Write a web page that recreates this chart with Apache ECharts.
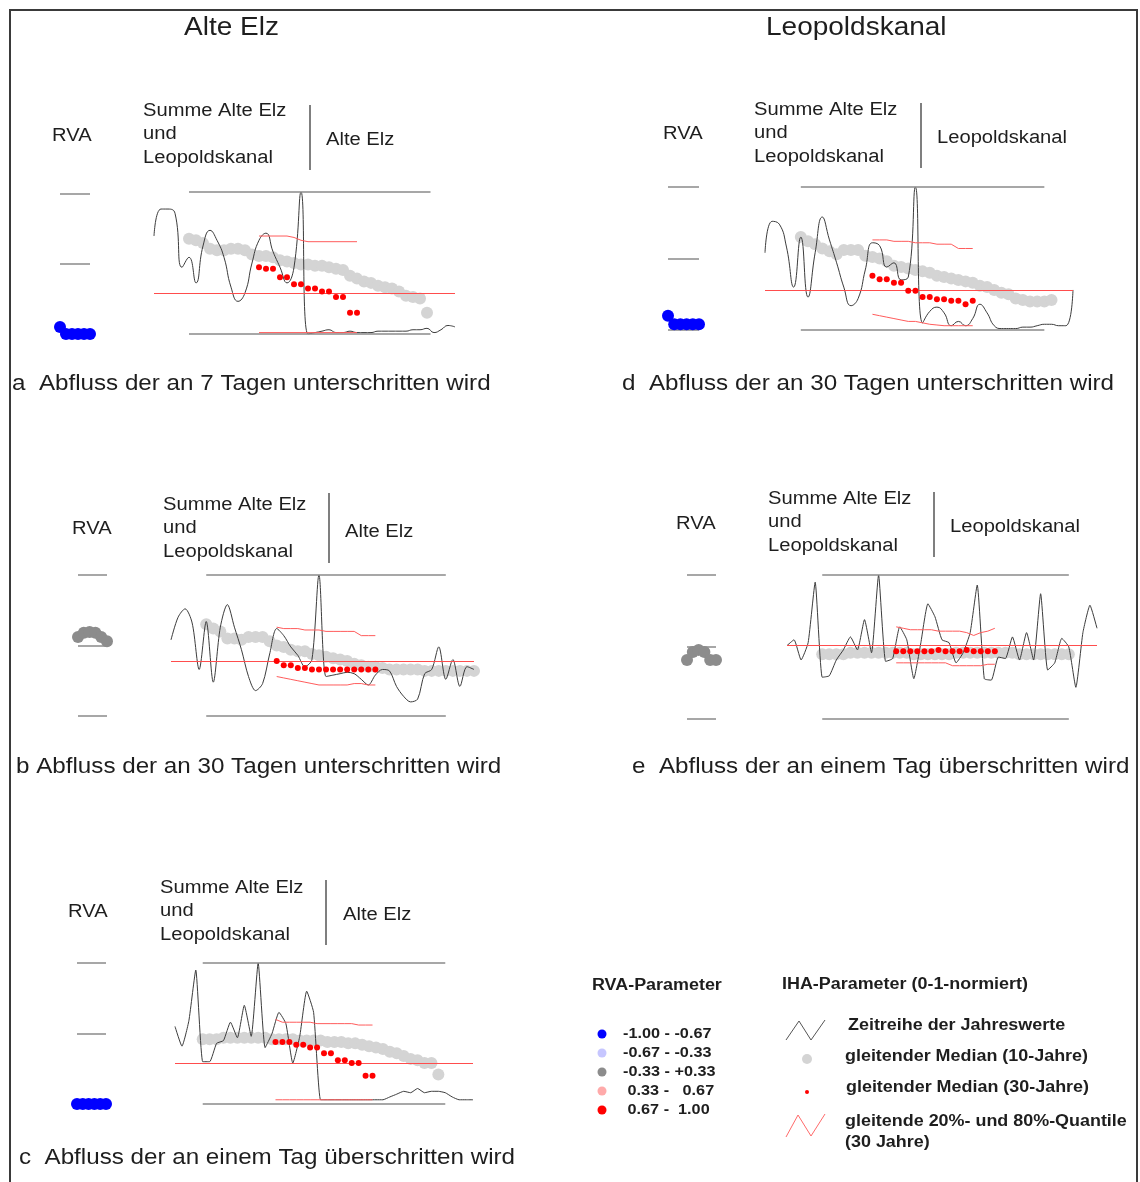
<!DOCTYPE html>
<html>
<head>
<meta charset="utf-8">
<script src="https://cdn.jsdelivr.net/npm/echarts@6/dist/echarts.min.js"></script>
<style>
  html, body { margin: 0; padding: 0; background: #fff; }
  #chart { width: 1140px; height: 1182px; }
</style>
</head>
<body>
<div id="chart"></div>
<script>
// ---- data (IHA-Parameter 0-1 normiert) ----
// a: Alte Elz, Abfluss der an 7 Tagen unterschritten wird
const jahreA = [0.69, 0.88, 0.88, 0.85, 0.47, 0.54, 0.36, 0.62, 0.73, 0.66, 0.54, 0.33, 0.23, 0.29, 0.50, 0.66, 0.71, 0.58, 0.47, 0.36, 0.47, 1.00, 0.00,
  0.01, 0.02, 0.03, 0.01, 0.01, 0.02, 0.01, 0.01, 0.01, 0.02, 0.02, 0.02, 0.02, 0.02, 0.03, 0.03, 0.04, 0.01, 0.03, 0.06, 0.05];
const median10A = [0.67, 0.66, 0.64, 0.60, 0.59, 0.59, 0.60, 0.60, 0.59, 0.56, 0.55, 0.55, 0.54, 0.52, 0.51, 0.50, 0.49, 0.49, 0.48, 0.48,
  0.47, 0.46, 0.45, 0.41, 0.39, 0.37, 0.36, 0.34, 0.33, 0.32, 0.30, 0.27, 0.26, 0.25, 0.15];
const median30A = [0.47, 0.46, 0.46, 0.40, 0.40, 0.35, 0.35, 0.32, 0.32, 0.30, 0.30, 0.26, 0.26, 0.15, 0.15];
const q80A = [0.69, 0.69, 0.69, 0.69, 0.69, 0.68, 0.66, 0.65, 0.65, 0.65, 0.65, 0.65, 0.65, 0.65, 0.65];
const q20A = [0.01, 0.01, 0.01, 0.01, 0.01, 0.01, 0.01, 0.01, 0.01, 0.01, 0.01, 0.01, 0.01, 0.01, 0.01];
const startsA = [5, 15];     // first year index of 10-yr median, 30-yr median / quantiles
const spanA = [5, 39.5];     // extent of the 0 / 1 reference lines
const refA = 0.29;
const rvaA = [-0.9, -1, -1, -1, -1, -1];

// b: Alte Elz, Abfluss der an 30 Tagen unterschritten wird
const jahreB = [0.54, 0.70, 0.76, 0.66, 0.33, 0.67, 0.24, 0.63, 0.79, 0.63, 0.47, 0.28, 0.18, 0.23, 0.44, 0.62, 0.57, 0.49, 0.43, 0.35,
  0.40, 1.00, 0.28, 0.29, 0.30, 0.31, 0.30, 0.26, 0.22, 0.29, 0.33, 0.32, 0.21, 0.14, 0.10, 0.12, 0.30, 0.33, 0.49, 0.26, 0.40, 0.21, 0.35, 0.33];
const median10B = [0.65, 0.62, 0.60, 0.55, 0.55, 0.54, 0.56, 0.56, 0.56, 0.53, 0.50, 0.49, 0.47, 0.46, 0.46, 0.44, 0.43, 0.42, 0.41, 0.40,
  0.39, 0.37, 0.36, 0.35, 0.35, 0.34, 0.33, 0.33, 0.33, 0.33, 0.33, 0.32, 0.32, 0.32, 0.32, 0.32, 0.32, 0.32, 0.32];
const median30B = [0.39, 0.36, 0.36, 0.34, 0.34, 0.33, 0.33, 0.33, 0.33, 0.33, 0.33, 0.33, 0.33, 0.33, 0.33];
const q80B = [0.63, 0.62, 0.62, 0.62, 0.61, 0.61, 0.61, 0.60, 0.60, 0.60, 0.60, 0.60, 0.57, 0.57, 0.57];
const q20B = [0.28, 0.27, 0.26, 0.25, 0.24, 0.23, 0.22, 0.22, 0.22, 0.22, 0.22, 0.23, 0.23, 0.22, 0.22];
const startsB = [5, 15];
const spanB = [5, 39];
const refB = 0.39;
const rvaB = [0.12, 0.18, 0.19, 0.18, 0.12, 0.06];

// c: Alte Elz, Abfluss der an einem Tag überschritten wird
const jahreC = [0.55, 0.41, 0.59, 0.95, 0.30, 0.30, 0.43, 0.45, 0.58, 0.47, 0.70, 0.48, 1.00, 0.40, 0.50, 0.65, 0.57, 0.29, 0.48, 0.80,
  0.65, 0.03, 0.03, 0.03, 0.03, 0.03, 0.03, 0.03, 0.03, 0.03, 0.03, 0.05, 0.07, 0.09, 0.08, 0.11, 0.08, 0.09, 0.09, 0.08, 0.05, 0.03, 0.03, 0.03];
const median10C = [0.46, 0.46, 0.46, 0.47, 0.47, 0.47, 0.47, 0.47, 0.47, 0.47, 0.46, 0.46, 0.46, 0.46, 0.45, 0.45, 0.45, 0.45, 0.44, 0.44,
  0.44, 0.43, 0.43, 0.42, 0.41, 0.40, 0.39, 0.37, 0.36, 0.34, 0.32, 0.31, 0.29, 0.29, 0.21];
const median30C = [0.44, 0.44, 0.44, 0.42, 0.42, 0.40, 0.40, 0.36, 0.36, 0.31, 0.31, 0.29, 0.29, 0.20, 0.20];
const q80C = [0.60, 0.58, 0.58, 0.58, 0.58, 0.58, 0.57, 0.57, 0.57, 0.57, 0.57, 0.57, 0.56, 0.56, 0.56];
const q20C = [0.03, 0.03, 0.03, 0.03, 0.03, 0.03, 0.03, 0.03, 0.03, 0.03, 0.03, 0.03, 0.03, 0.03, 0.03];
const startsC = [4, 14.5];
const spanC = [4, 39];
const refC = 0.29;
const rvaC = [-1, -1, -1, -1, -1, -1];

// d: Leopoldskanal, Abfluss der an 30 Tagen unterschritten wird
const jahreD = [0.54, 0.76, 0.74, 0.58, 0.30, 0.65, 0.23, 0.54, 0.79, 0.63, 0.47, 0.30, 0.17, 0.22, 0.42, 0.61, 0.59, 0.44, 0.47, 0.35,
  0.37, 1.00, 0.05, 0.13, 0.16, 0.12, 0.03, 0.06, 0.03, 0.08, 0.18, 0.12, 0.03, 0.01, 0.01, 0.01, 0.02, 0.02, 0.03, 0.04, 0.04, 0.03, 0.03, 0.28];
const median10D = [0.65, 0.62, 0.60, 0.57, 0.55, 0.53, 0.56, 0.56, 0.56, 0.52, 0.51, 0.50, 0.48, 0.45, 0.44, 0.43, 0.42, 0.41, 0.40, 0.38,
  0.37, 0.36, 0.35, 0.34, 0.33, 0.31, 0.30, 0.28, 0.26, 0.25, 0.22, 0.21, 0.20, 0.20, 0.20, 0.21];
const median30D = [0.38, 0.355, 0.355, 0.33, 0.33, 0.275, 0.275, 0.23, 0.23, 0.215, 0.215, 0.205, 0.205, 0.18, 0.205];
const q80D = [0.63, 0.63, 0.63, 0.62, 0.62, 0.62, 0.61, 0.61, 0.61, 0.60, 0.60, 0.60, 0.57, 0.57, 0.57];
const q20D = [0.11, 0.10, 0.09, 0.08, 0.07, 0.06, 0.06, 0.05, 0.04, 0.035, 0.03, 0.03, 0.03, 0.03, 0.03];
const startsD = [5, 15];
const spanD = [5, 39];
const refD = 0.28;
const rvaD = [-0.8, -0.92, -0.92, -0.92, -0.92, -0.92];

// e: Leopoldskanal, Abfluss der an einem Tag überschritten wird
const jahreE = [0.51, 0.55, 0.41, 0.53, 0.95, 0.29, 0.30, 0.41, 0.48, 0.57, 0.48, 0.69, 0.46, 1.00, 0.40, 0.42, 0.64, 0.55, 0.28, 0.53,
  0.80, 0.71, 0.55, 0.53, 0.39, 0.46, 0.60, 0.93, 0.28, 0.27, 0.43, 0.42, 0.57, 0.41, 0.60, 0.41, 0.87, 0.34, 0.39, 0.56, 0.50, 0.22, 0.60, 0.79, 0.63];
const median10E = [0.45, 0.45, 0.45, 0.45, 0.46, 0.46, 0.46, 0.46, 0.46, 0.46, 0.46, 0.46, 0.46, 0.45, 0.45, 0.45, 0.45, 0.45, 0.45, 0.46,
  0.46, 0.46, 0.46, 0.46, 0.46, 0.46, 0.46, 0.46, 0.45, 0.45, 0.45, 0.45, 0.45, 0.45, 0.45, 0.45];
const median30E = [0.47, 0.47, 0.47, 0.47, 0.47, 0.47, 0.48, 0.47, 0.47, 0.47, 0.48, 0.47, 0.47, 0.47, 0.47];
const q80E = [0.64, 0.63, 0.62, 0.62, 0.62, 0.62, 0.61, 0.61, 0.61, 0.61, 0.60, 0.58, 0.60, 0.61, 0.63];
const q20E = [0.39, 0.39, 0.39, 0.39, 0.39, 0.39, 0.39, 0.39, 0.37, 0.37, 0.37, 0.37, 0.37, 0.38, 0.38];
const startsE = [5, 15.5];
const spanE = [5, 40];
const refE = 0.51;
const rvaE = [-0.18, -0.07, -0.04, -0.07, -0.18, -0.18];

// RVA classes (legend)
const rvaBreaks = [-0.67, -0.33, 0.33, 0.67];
const rvaLabels = ['-1.00 - -0.67', '-0.67 - -0.33', '-0.33 - +0.33', ' 0.33 -   0.67', ' 0.67 -  1.00'];
const rvaLevels = [1, 0, -1];

// ---- layout / style ----
const FONT = '"Liberation Sans", Arial, Helvetica, sans-serif';
const TXT = '#1e1e1e';
const SX = 1.12; // the scanned lettering is a bit wider than the font
const rvaColors = ['#0000ff', '#c6c6ff', '#8c8c8c', '#ffaaaa', '#ff0000'];
const refLine = { color: '#8a8a8a', width: 1.5, type: 'solid' };

const panels = [
  { id: 'a', jahre: jahreA, m10: median10A, m30: median30A, q80: q80A, q20: q20A, starts: startsA, span: spanA, ref: refA, rva: rvaA,
    box: { x: 154, w: 301, top: 192, h: 142, smooth: 0.5, rx: 60, rw: 30, rtop: 194, rh: 140 },
    head: { rva: [52, 136], summe: [143, 111], div: [310, 105, 170], name: 'Alte Elz', nameAt: [326, 140] },
    cap: { text: 'a  Abfluss der an 7 Tagen unterschritten wird', at: [12, 384] } },
  { id: 'b', jahre: jahreB, m10: median10B, m30: median30B, q80: q80B, q20: q20B, starts: startsB, span: spanB, ref: refB, rva: rvaB,
    box: { x: 171, w: 303, top: 575, h: 141, smooth: 0.3, rx: 78, rw: 29, rtop: 575, rh: 141 },
    head: { rva: [72, 529], summe: [163, 505], div: [329, 493, 563], name: 'Alte Elz', nameAt: [345, 532] },
    cap: { text: 'b Abfluss der an 30 Tagen unterschritten wird', at: [16, 767] } },
  { id: 'c', jahre: jahreC, m10: median10C, m30: median30C, q80: q80C, q20: q20C, starts: startsC, span: spanC, ref: refC, rva: rvaC,
    box: { x: 175, w: 298, top: 963, h: 141, smooth: 0.15, rx: 77, rw: 29, rtop: 963, rh: 141 },
    head: { rva: [68, 912], summe: [160, 888], div: [326, 880, 945], name: 'Alte Elz', nameAt: [343, 915] },
    cap: { text: 'c  Abfluss der an einem Tag überschritten wird', at: [19, 1158] } },
  { id: 'd', jahre: jahreD, m10: median10D, m30: median30D, q80: q80D, q20: q20D, starts: startsD, span: spanD, ref: refD, rva: rvaD,
    box: { x: 765, w: 308, top: 187, h: 143, smooth: 0.5, rx: 668, rw: 31, rtop: 187, rh: 143 },
    head: { rva: [663, 134], summe: [754, 110], div: [921, 103, 168], name: 'Leopoldskanal', nameAt: [937, 138] },
    cap: { text: 'd  Abfluss der an 30 Tagen unterschritten wird', at: [622, 384] } },
  { id: 'e', jahre: jahreE, m10: median10E, m30: median30E, q80: q80E, q20: q20E, starts: startsE, span: spanE, ref: refE, rva: rvaE,
    box: { x: 787, w: 310, top: 575, h: 144, smooth: 0.15, rx: 687, rw: 29, rtop: 575, rh: 144 },
    head: { rva: [676, 524], summe: [768, 499], div: [934, 492, 557], name: 'Leopoldskanal', nameAt: [950, 527] },
    cap: { text: 'e  Abfluss der an einem Tag überschritten wird', at: [632, 767] } }
];

const at = (vals, start) => vals.map((v, i) => [start + i, v]);
const rvaClass = v => {
  let k = 0;
  while (k < rvaBreaks.length && v > rvaBreaks[k]) k++;
  return k;
};

function text(str, x, y, size, weight) {
  return {
    type: 'text', x: x, y: y, scaleX: SX, silent: true,
    style: {
      text: str, fontSize: size, fontFamily: FONT, fontWeight: weight || 'normal', fill: TXT,
      align: 'left', verticalAlign: 'middle', textAlign: 'left', textVerticalAlign: 'middle'
    }
  };
}
function line(x1, y1, x2, y2, color, w) {
  return { type: 'line', silent: true, shape: { x1, y1, x2, y2 }, style: { stroke: color, lineWidth: w } };
}

const grid = [], xAxis = [], yAxis = [], series = [], graphic = [];

panels.forEach((p, k) => {
  const b = p.box;
  const g = 2 * k;
  grid.push({ left: b.x, top: b.top, width: b.w, height: b.h });
  grid.push({ left: b.rx, top: b.rtop, width: b.rw, height: b.rh });
  xAxis.push({ gridIndex: g, type: 'value', min: 0, max: p.jahre.length - 1, show: false });
  yAxis.push({ gridIndex: g, type: 'value', min: 0, max: 1, show: false });
  xAxis.push({ gridIndex: g + 1, type: 'value', min: 0, max: p.rva.length - 1, show: false });
  yAxis.push({ gridIndex: g + 1, type: 'value', min: -1, max: 1, show: false });

  // gleitender Median (10 Jahre)
  series.push({
    type: 'scatter', xAxisIndex: g, yAxisIndex: g, z: 1, silent: true,
    symbolSize: 12, itemStyle: { color: '#d4d4d4', opacity: 1 },
    data: at(p.m10, p.starts[0])
  });
  // Zeitreihe der Jahreswerte + reference lines
  series.push({
    type: 'line', xAxisIndex: g, yAxisIndex: g, z: 2, silent: true,
    data: at(p.jahre, 0), smooth: b.smooth, showSymbol: false, symbol: 'none',
    lineStyle: { color: '#3c3c3c', width: 1 },
    markLine: {
      silent: true, symbol: 'none', z: 3, animation: false,
      label: { show: false },
      lineStyle: { type: 'solid', width: 1 },
      data: [
        { yAxis: p.ref, lineStyle: { color: '#ff4d4d', width: 1, type: 'solid' } },
        [{ coord: [p.span[0], 1], lineStyle: refLine }, { coord: [p.span[1], 1], lineStyle: refLine }],
        [{ coord: [p.span[0], 0], lineStyle: refLine }, { coord: [p.span[1], 0], lineStyle: refLine }]
      ]
    }
  });
  // gleitende 20%- und 80%-Quantile (30 Jahre)
  [p.q80, p.q20].forEach(q => {
    series.push({
      type: 'line', xAxisIndex: g, yAxisIndex: g, z: 3, silent: true,
      data: at(q, p.starts[1]), showSymbol: false, symbol: 'none',
      lineStyle: { color: '#ff5c5c', width: 1 }
    });
  });
  // gleitender Median (30 Jahre)
  series.push({
    type: 'scatter', xAxisIndex: g, yAxisIndex: g, z: 4, silent: true,
    symbolSize: 6, itemStyle: { color: '#ff0000', opacity: 1 },
    data: at(p.m30, p.starts[1])
  });
  // RVA column
  series.push({
    type: 'scatter', xAxisIndex: g + 1, yAxisIndex: g + 1, z: 2, silent: true,
    symbolSize: 12,
    data: p.rva.map((v, i) => ({ value: [i, v], itemStyle: { color: rvaColors[rvaClass(v)], opacity: 1 } })),
    markLine: {
      silent: true, symbol: 'none', z: 1, animation: false,
      label: { show: false },
      lineStyle: { color: '#8a8a8a', width: 1.5, type: 'solid' },
      data: rvaLevels.map(v => ({ yAxis: v }))
    }
  });

  // headers and caption
  const h = p.head;
  graphic.push(text('RVA', h.rva[0], h.rva[1], 18));
  ['Summe Alte Elz', 'und', 'Leopoldskanal'].forEach((s, i) => {
    graphic.push(text(s, h.summe[0], h.summe[1] + i * 23.5, 18));
  });
  graphic.push(line(h.div[0], h.div[1], h.div[0], h.div[2], '#555', 1.5));
  graphic.push(text(h.name, h.nameAt[0], h.nameAt[1], 18));
  graphic.push(text(p.cap.text, p.cap.at[0], p.cap.at[1], 21.6));
});

// column titles
graphic.push(text('Alte Elz', 184, 28, 25));
graphic.push(text('Leopoldskanal', 766, 28, 25));

// legend: RVA-Parameter
graphic.push(text('RVA-Parameter', 592, 986, 16, 'bold'));
rvaLabels.forEach((s, i) => {
  const y = 1034 + i * 19;
  graphic.push({ type: 'circle', silent: true, shape: { cx: 602, cy: y, r: 4.5 }, style: { fill: rvaColors[i] } });
  graphic.push(text(s, 623, y, 14.5, 'bold'));
});

// legend: IHA-Parameter
graphic.push(text('IHA-Parameter (0-1-normiert)', 782, 985, 16, 'bold'));
graphic.push({ type: 'polyline', silent: true, shape: { points: [[786, 1040], [799, 1021], [811, 1040], [825, 1020]] },
  style: { stroke: '#555', lineWidth: 1, fill: null } });
graphic.push(text('Zeitreihe der Jahreswerte', 848, 1026, 16, 'bold'));
graphic.push({ type: 'circle', silent: true, shape: { cx: 807, cy: 1059, r: 5 }, style: { fill: '#d4d4d4' } });
graphic.push(text('gleitender Median (10-Jahre)', 845, 1057, 16, 'bold'));
graphic.push({ type: 'circle', silent: true, shape: { cx: 807, cy: 1092, r: 2 }, style: { fill: '#ff0000' } });
graphic.push(text('gleitender Median (30-Jahre)', 846, 1088, 16, 'bold'));
graphic.push({ type: 'polyline', silent: true, shape: { points: [[786, 1137], [798, 1115], [811, 1136], [825, 1114]] },
  style: { stroke: '#ff6a6a', lineWidth: 1, fill: null } });
graphic.push(text('gleitende 20%- und 80%-Quantile', 845, 1122, 16, 'bold'));
graphic.push(text('(30 Jahre)', 845, 1143, 16, 'bold'));

// outer frame
graphic.push({ type: 'rect', silent: true, shape: { x: 10, y: 10, width: 1127, height: 1195 },
  style: { fill: null, stroke: '#3a3a3a', lineWidth: 2 } });

const chart = echarts.init(document.getElementById('chart'));
chart.setOption({
  animation: false,
  backgroundColor: '#ffffff',
  grid, xAxis, yAxis, series,
  graphic: { elements: graphic }
});
</script>
</body>
</html>
